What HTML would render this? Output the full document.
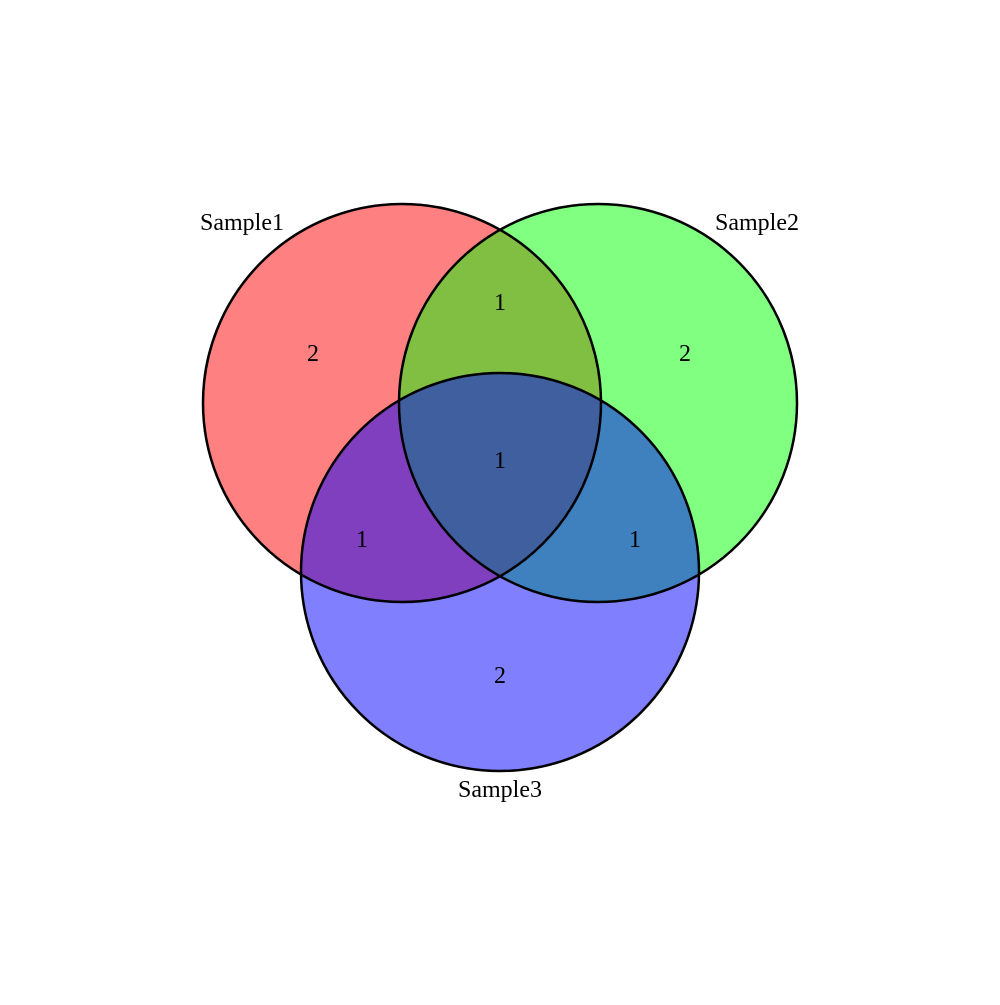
<!DOCTYPE html>
<html><head><meta charset="utf-8"><style>html,body{margin:0;padding:0;background:#fff}</style></head>
<body>
<svg width="1000" height="1000" viewBox="0 0 1000 1000" xmlns="http://www.w3.org/2000/svg">
<defs>
<clipPath id="c1"><circle cx="402" cy="403" r="199"/></clipPath>
<clipPath id="c2"><circle cx="598" cy="403" r="199"/></clipPath>
<clipPath id="c3"><circle cx="500" cy="572" r="199"/></clipPath>
</defs>
<rect width="1000" height="1000" fill="#fff"/>
<circle cx="402" cy="403" r="199" fill="#ff8080"/>
<circle cx="598" cy="403" r="199" fill="#80ff80"/>
<circle cx="500" cy="572" r="199" fill="#8080ff"/>
<g clip-path="url(#c1)"><circle cx="598" cy="403" r="199" fill="#81bf43"/><circle cx="500" cy="572" r="199" fill="#7f3fbf"/></g>
<g clip-path="url(#c2)"><circle cx="500" cy="572" r="199" fill="#3f80bf"/></g>
<g clip-path="url(#c1)"><g clip-path="url(#c2)"><circle cx="500" cy="572" r="199" fill="#3f5f9f"/></g></g>
<g fill="none" stroke="#000" stroke-width="2.5">
<circle cx="402" cy="403" r="199"/>
<circle cx="598" cy="403" r="199"/>
<circle cx="500" cy="572" r="199"/>
</g>
<g font-family="'Liberation Serif', serif" font-size="24" text-anchor="middle" fill="#000">
<text x="242" y="230">Sample1</text>
<text x="757" y="230">Sample2</text>
<text x="500" y="797">Sample3</text>
<text x="313" y="361">2</text>
<text x="500" y="310">1</text>
<text x="685" y="361">2</text>
<text x="500" y="468">1</text>
<text x="362" y="547">1</text>
<text x="635" y="547">1</text>
<text x="500" y="683">2</text>
</g>
</svg>
</body></html>
